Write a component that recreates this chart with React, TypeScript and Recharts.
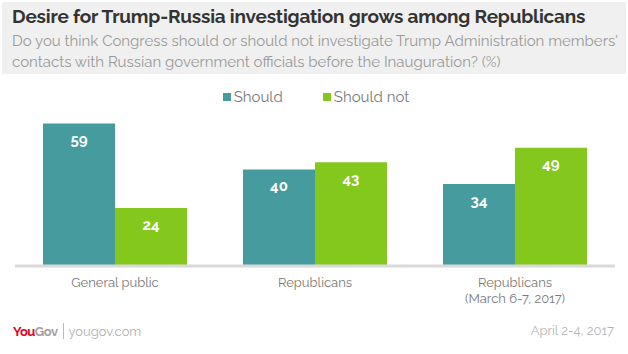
import React from "react";
import { BarChart, Bar, XAxis, YAxis, LabelList } from "recharts";

const categories = ["General public", "Republicans", "Republicans\n(March 6-7, 2017)"];
const shouldValues = [59, 40, 34];
const shouldNotValues = [24, 43, 49];
const seriesNames = ["Should", "Should not"];
const colors = ["#459b9e", "#84c81d"];

const data = categories.map((c, i) => ({
  name: c,
  should: shouldValues[i],
  shouldNot: shouldNotValues[i],
}));

const FONT = "Raleway, Lato, 'Open Sans', sans-serif";

const Tick = (props: any) => {
  const { x, y, payload } = props;
  const lines = String(payload.value).split("\n");
  return (
    <g>
      {lines.map((l: string, i: number) => (
        <text
          key={i}
          x={x}
          y={y + 13 + i * 16}
          textAnchor="middle"
          fill="#7a7a7a"
          fontSize={13}
          fontFamily={FONT}
        >
          {l}
        </text>
      ))}
    </g>
  );
};

const LegendContent = () => (
  <div
    style={{
      display: "flex",
      justifyContent: "center",
      fontFamily: FONT,
      fontSize: 15,
      color: "#7a7a7a",
      paddingLeft: 4,
    }}
  >
    {seriesNames.map((n, i) => (
      <div key={n} style={{ display: "flex", alignItems: "center", marginRight: i === 0 ? 40 : 0 }}>
        <span
          style={{
            display: "inline-block",
            width: 8,
            height: 8,
            background: colors[i],
            marginRight: 3,
          }}
        />
        <span>{n}</span>
      </div>
    ))}
  </div>
);

export default function App() {
  return (
    <div
      style={{
        position: "absolute",
        left: 0,
        top: 0,
        width: 628,
        height: 354,
        background: "#fff",
        fontFamily: FONT,
        overflow: "hidden",
      }}
    >
      <div
        style={{
          position: "absolute",
          left: 2,
          top: 2,
          width: 624,
          height: 72,
          background: "#f0f0f0",
        }}
      />
      <div
        style={{
          position: "absolute",
          left: 12,
          top: 5,
          fontSize: 19,
          fontWeight: 700,
          color: "#333",
          whiteSpace: "nowrap",
          letterSpacing: -0.2,
        }}
      >
        Desire for Trump-Russia investigation grows among Republicans
      </div>
      <div
        style={{
          position: "absolute",
          left: 12,
          top: 31,
          fontSize: 15,
          lineHeight: "21px",
          color: "#9a9a9a",
          whiteSpace: "nowrap",
        }}
      >
        Do you think Congress should or should not investigate Trump Administration members'
        <br />
        contacts with Russian government officials before the Inauguration? (%)
      </div>
      <div style={{ position: "absolute", left: 0, top: 88, width: 628 }}>
        <LegendContent />
      </div>
      <div style={{ position: "absolute", left: 0, top: 0 }}>
        <BarChart
          width={628}
          height={354}
          data={data}
          margin={{ top: 97, right: 13, left: 15, bottom: 48 }}
          barCategoryGap="14%"
          barGap={0}
        >
          <XAxis
            dataKey="name"
            height={40}
            tickLine={false}
            axisLine={{ stroke: "#d9d9d9", strokeWidth: 3 }}
            tick={<Tick />}
            interval={0}
          />
          <YAxis hide domain={[0, 70]} />
          <Bar dataKey="should" name={seriesNames[0]} fill={colors[0]} isAnimationActive={false}>
            <LabelList
              dataKey="should"
              position="insideTop"
              offset={11}
              fill="#fff"
              fontSize={15}
              fontWeight={700}
              fontFamily={FONT}
            />
          </Bar>
          <Bar dataKey="shouldNot" name={seriesNames[1]} fill={colors[1]} isAnimationActive={false}>
            <LabelList
              dataKey="shouldNot"
              position="insideTop"
              offset={11}
              fill="#fff"
              fontSize={15}
              fontWeight={700}
              fontFamily={FONT}
            />
          </Bar>
        </BarChart>
      </div>
      <div
        style={{
          position: "absolute",
          left: 13,
          top: 323,
          display: "flex",
          alignItems: "center",
          fontSize: 13,
        }}
      >
        <span style={{ fontWeight: 700, color: "#e3001b", letterSpacing: -0.5 }}>You</span>
        <span style={{ fontWeight: 700, color: "#a0a0a0", letterSpacing: -0.5 }}>Gov</span>
        <span
          style={{
            display: "inline-block",
            width: 1,
            height: 16,
            background: "#bbb",
            margin: "0 5px 0 5px",
          }}
        />
        <span style={{ color: "#b0b0b0", fontSize: 13 }}>yougov.com</span>
      </div>
      <div
        style={{
          position: "absolute",
          right: 14,
          top: 323,
          fontSize: 13,
          color: "#b5b5b5",
        }}
      >
        April 2-4, 2017
      </div>
    </div>
  );
}
